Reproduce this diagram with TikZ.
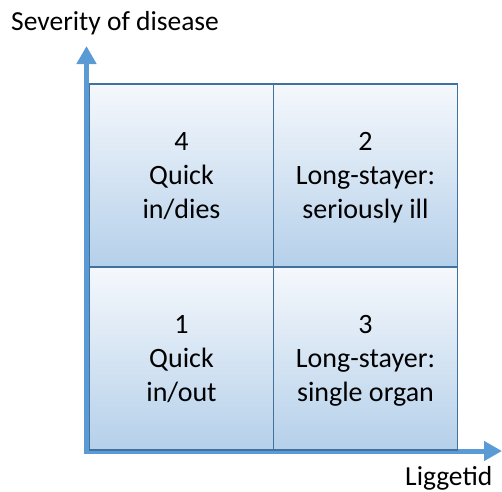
\documentclass[tikz,border=0pt]{standalone}
\usepackage{fontspec}
\setmainfont{Carlito}
\usetikzlibrary{arrows.meta}
\definecolor{axisblue}{HTML}{5B9BD5}
\definecolor{cellborder}{HTML}{41719C}
\definecolor{celltop}{HTML}{F5F8FC}
\definecolor{cellbot}{HTML}{B5D0EA}
\tikzset{
  axisline/.style={draw=axisblue, line width=5pt, -{Triangle[width=19pt,length=18pt]}},
  cell/.style={draw=cellborder, line width=1.6pt, top color=celltop, bottom color=cellbot,
    minimum width=184pt, minimum height=183pt, inner sep=0pt, align=center,
    font=\fontsize{28}{34}\selectfont, text height=86pt, text depth=0pt},
  axlabel/.style={inner sep=0pt, anchor=base west, font=\fontsize{27.5}{33}\selectfont}
}
\begin{document}
\begin{tikzpicture}[x=1pt, y=-1pt]
\useasboundingbox (0,0) rectangle (502,491);
\coordinate (Ytip) at (86.5,46);
\coordinate (Xtip) at (502,451);
\coordinate (Ostart) at (86.5,453.5);
\coordinate (Xstart) at (84,451);
\draw[axisline] (Ostart) -- (Ytip);
\draw[axisline] (Xstart) -- (Xtip);
\node[cell] (c4) at (181.5,175.5) {4\\Quick\\in/dies};
\node[cell] (c2) at (365.5,175.5) {2\\Long-stayer:\\seriously ill};
\node[cell] (c1) at (181.5,358.5) {1\\Quick\\in/out};
\node[cell] (c3) at (365.5,358.5) {3\\Long-stayer:\\single organ};
\node[axlabel] (ylab) at (11,30.7) {Severity of disease};
\node[axlabel] (xlab) at (405,485) {Liggetid};
\end{tikzpicture}
\end{document}
